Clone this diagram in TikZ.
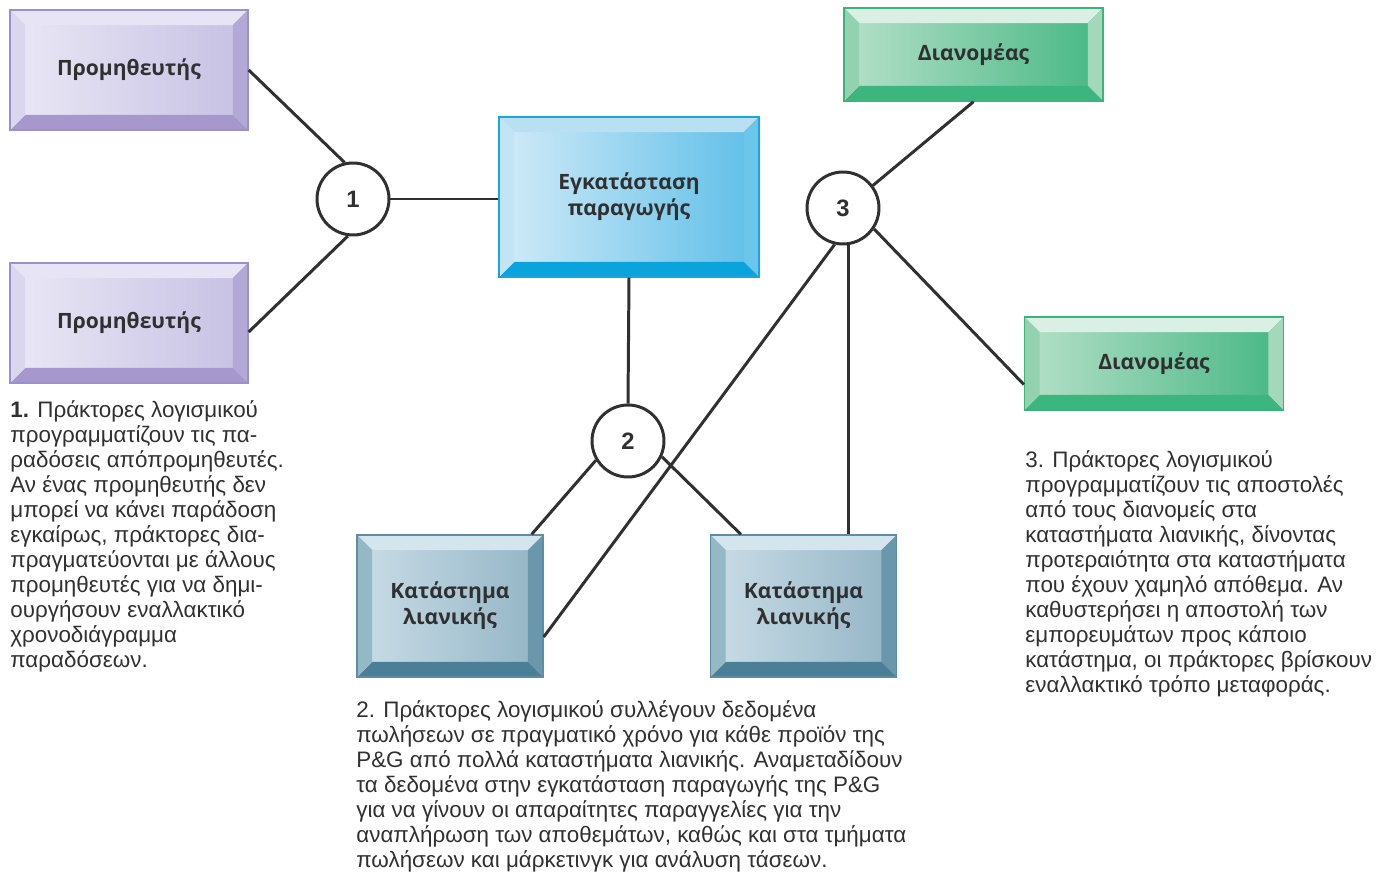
\documentclass[tikz,border=0pt]{standalone}
\usepackage{fontspec}
\setmainfont{Liberation Sans}
\newfontfamily\boxfont{Open Sans}
\usetikzlibrary{calc}
\usetikzlibrary{positioning}

\definecolor{ink}{HTML}{303030}
\definecolor{supL}{HTML}{EAE8F6}
\definecolor{supR}{HTML}{C6C0E3}
\definecolor{supT}{HTML}{E7E5F5}
\definecolor{supRt}{HTML}{B2A9D7}
\definecolor{supBt}{HTML}{A698CD}
\definecolor{supLt}{HTML}{DAD6EE}
\definecolor{supE}{HTML}{9C90CA}
\definecolor{prodL}{HTML}{D2EBF8}
\definecolor{prodR}{HTML}{5DBEE8}
\definecolor{prodT}{HTML}{B9DFF3}
\definecolor{prodRt}{HTML}{6CC6EB}
\definecolor{prodBt}{HTML}{0BA3DC}
\definecolor{prodLt}{HTML}{C3E4F5}
\definecolor{prodE}{HTML}{17A7DE}
\definecolor{distL}{HTML}{B6E0C9}
\definecolor{distR}{HTML}{46B784}
\definecolor{distT}{HTML}{DAF0E4}
\definecolor{distRt}{HTML}{A3D8BA}
\definecolor{distBt}{HTML}{3CB67E}
\definecolor{distLt}{HTML}{93D2AF}
\definecolor{distE}{HTML}{3AB37C}
\definecolor{retL}{HTML}{CADDE7}
\definecolor{retR}{HTML}{92B4C5}
\definecolor{retT}{HTML}{D5E5ED}
\definecolor{retRt}{HTML}{6B97AD}
\definecolor{retBt}{HTML}{4B7F98}
\definecolor{retLt}{HTML}{95B8C7}
\definecolor{retE}{HTML}{5E8CA3}

\newcommand\bevels[4]{%
  \coordinate (bnw) at (path picture bounding box.north west);
  \coordinate (bne) at (path picture bounding box.north east);
  \coordinate (bse) at (path picture bounding box.south east);
  \coordinate (bsw) at (path picture bounding box.south west);
  \fill[#1] (bnw) -- (bne) -- ([shift={(-.3cm,-.3cm)}]bne) -- ([shift={(.3cm,-.3cm)}]bnw) -- cycle;
  \fill[#2] (bne) -- (bse) -- ([shift={(-.3cm,.3cm)}]bse) -- ([shift={(-.3cm,-.3cm)}]bne) -- cycle;
  \fill[#3] (bse) -- (bsw) -- ([shift={(.3cm,.3cm)}]bsw) -- ([shift={(-.3cm,.3cm)}]bse) -- cycle;
  \fill[#4] (bsw) -- (bnw) -- ([shift={(.3cm,-.3cm)}]bnw) -- ([shift={(.3cm,.3cm)}]bsw) -- cycle;
}

\tikzset{
  box/.style={inner sep=0pt, align=center, line width=0.8pt, text=ink,
    font=\boxfont\bfseries\fontsize{12}{14.7}\selectfont},
  supbox/.style={box, minimum width=4.76cm, minimum height=2.4cm, left color=supL, right color=supR,
    draw=supE, path picture={\bevels{supT}{supRt}{supBt}{supLt}}},
  prodbox/.style={box, minimum width=5.2cm, minimum height=3.2cm, left color=prodL, right color=prodR,
    draw=prodE, path picture={\bevels{prodT}{prodRt}{prodBt}{prodLt}}},
  distbox/.style={box, minimum width=5.18cm, minimum height=1.86cm, left color=distL, right color=distR,
    draw=distE, path picture={\bevels{distT}{distRt}{distBt}{distLt}}},
  retbox/.style={box, minimum width=3.72cm, minimum height=2.84cm, left color=retL, right color=retR,
    draw=retE, path picture={\bevels{retT}{retRt}{retBt}{retLt}}},
  num/.style={circle, draw=ink, line width=1.7pt, fill=white, minimum size=1.44cm, inner sep=0pt,
    text=ink, font=\bfseries\fontsize{13.5}{15}\selectfont},
  link/.style={draw=ink, line width=1.7pt},
  note/.style={anchor=north west, align=left, inner sep=0pt, text=ink,
    font=\fontsize{12.75}{14.23}\selectfont}
}

\begin{document}
\begin{tikzpicture}[x=0.02cm, y=-0.02cm]
  \useasboundingbox (0,0) rectangle (1383,872);

  \node[supbox] (sup1) at (129,70) {Προμηθευτής};
  \node[supbox] (sup2) at (129,323) {Προμηθευτής};
  \node[prodbox] (prod) at (629,197) {Εγκατάσταση\\παραγωγής};
  \node[distbox] (dist1) at (973.5,54.5) {Διανομέας};
  \node[distbox] (dist2) at (1154,363.5) {Διανομέας};
  \node[retbox] (ret1) at (450,606) {Κατάστημα\\λιανικής};
  \node[retbox] (ret2) at (803.5,606) {Κατάστημα\\λιανικής};

  \foreach \n/\x/\y in {1/353/199, 2/628/441, 3/843/208} {
      \node[num] (c\n) at (\x,\y) {\n};
  }

  \draw[link] (sup1.east) -- (c1.103);
  \draw[link] ([yshift=-0.18cm]sup2.east) -- (c1.262);
  \draw[link] (c1.east) -- (c1.east -| prod.west);

  \draw[link] (prod.south) -- (c2.north);
  \draw[link] (c2.211) -- ([xshift=-0.24cm]ret1.north east);
  \draw[link] (c2.335) -- ([xshift=0.62cm]ret2.north west);

  \draw[link] (c3.37) -- (dist1.south);
  \draw[link] (c3.326) -- ([yshift=-0.42cm]dist2.west);
  \draw[link] (c3.-82) -- (c3.-82 |- ret2.north);
  \draw[link] (c3.257) -- ([yshift=-0.62cm]ret1.east);

  \node[note] (note1) at (10,400) {\textbf{1.} Πράκτορες λογισμικού\\
    προγραμματίζουν τις πα-\\
    ραδόσεις απόπρομηθευτές.\\
    Αν ένας προμηθευτής δεν\\
    μπορεί να κάνει παράδοση\\
    εγκαίρως, πράκτορες δια-\\
    πραγματεύονται με άλλους\\
    προμηθευτές για να δημι-\\
    ουργήσουν εναλλακτικό\\
    χρονοδιάγραμμα\\
    παραδόσεων.};
  \node[note] (note2) at (356,700) {2. Πράκτορες λογισμικού συλλέγουν δεδομένα\\
    πωλήσεων σε πραγματικό χρόνο για κάθε προϊόν της\\
    P\&G από πολλά καταστήματα λιανικής. Αναμεταδίδουν\\
    τα δεδομένα στην εγκατάσταση παραγωγής της P\&G\\
    για να γίνουν οι απαραίτητες παραγγελίες για την\\
    αναπλήρωση των αποθεμάτων, καθώς και στα τμήματα\\
    πωλήσεων και μάρκετινγκ για ανάλυση τάσεων.};
  \node[note] (note3) at (1025,450) {3. Πράκτορες λογισμικού\\
    προγραμματίζουν τις αποστολές\\
    από τους διανομείς στα\\
    καταστήματα λιανικής, δίνοντας\\
    προτεραιότητα στα καταστήματα\\
    που έχουν χαμηλό απόθεμα. Αν\\
    καθυστερήσει η αποστολή των\\
    εμπορευμάτων προς κάποιο\\
    κατάστημα, οι πράκτορες βρίσκουν\\
    εναλλακτικό τρόπο μεταφοράς.};
\end{tikzpicture}
\end{document}
